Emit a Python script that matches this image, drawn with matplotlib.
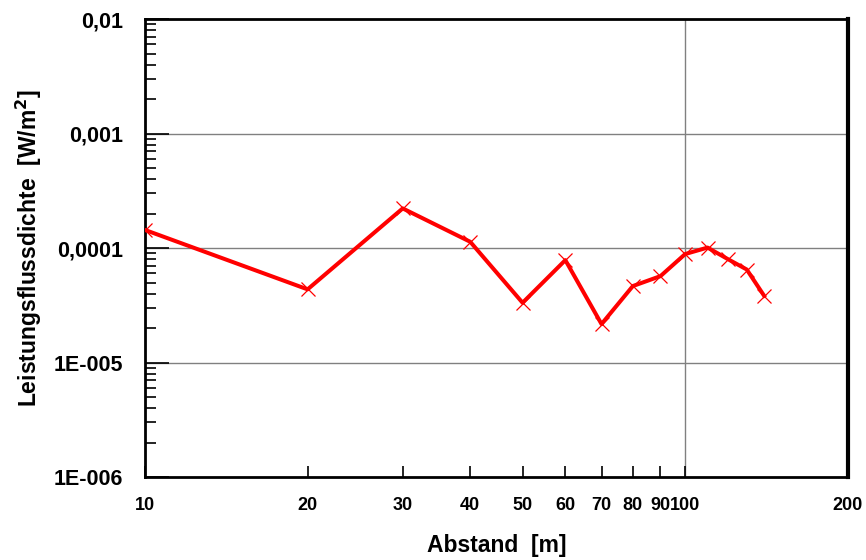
import matplotlib.pyplot as plt
from matplotlib.ticker import FixedLocator, NullFormatter
import numpy as np

plt.rcParams['font.family'] = ['Liberation Sans', 'DejaVu Sans']
plt.rcParams['font.weight'] = 'bold'

# Abstand [m] and Leistungsflussdichte [W/m^2]
abstand = [10, 20, 30, 40, 50, 60, 70, 80, 90, 100, 110, 120, 130, 140]
dichte = [1.44e-4, 4.36e-5, 2.22e-4, 1.135e-4, 3.33e-5, 7.85e-5, 2.17e-5,
          4.66e-5, 5.69e-5, 8.87e-5, 1.01e-4, 8.0e-5, 6.5e-5, 3.83e-5]

x_ticks = [10, 20, 30, 40, 50, 60, 70, 80, 90, 100, 200]
x_labels = ['10', '20', '30', '40', '50', '60', '70', '80', '90', '100', '200']
y_ticks = [1e-6, 1e-5, 1e-4, 1e-3, 1e-2]
y_labels = ['1E-006', '1E-005', '0,0001', '0,001', '0,01']

fig = plt.figure(figsize=(8.66, 5.6), dpi=100)
ax = fig.add_axes([0.1674, 0.148, 0.8116, 0.818])

ax.set_xscale('log')
ax.set_yscale('log')
ax.set_xlim(10, 200)
ax.set_ylim(1e-6, 1e-2)

# grid: horizontal at each decade, vertical only at 100
for yv in y_ticks[1:-1]:
    ax.axhline(yv, color='#808080', linewidth=1, zorder=1)
ax.axvline(100, color='#808080', linewidth=1, zorder=1)

ax.plot(abstand, dichte, color='#ff0000', linewidth=2.9, marker='x',
        markersize=10, markeredgewidth=0.9, zorder=3)

ax.xaxis.set_major_locator(FixedLocator(x_ticks))
ax.set_xticklabels(x_labels)
ax.xaxis.set_minor_locator(FixedLocator([]))
ax.yaxis.set_major_locator(FixedLocator(y_ticks))
ax.set_yticklabels(y_labels)
minor_y = [m * 10.0 ** e for e in range(-6, -2) for m in range(2, 10)]
ax.yaxis.set_minor_locator(FixedLocator(minor_y))
ax.yaxis.set_minor_formatter(NullFormatter())

ax.tick_params(axis='x', which='major', direction='in', length=8, width=1.2,
               labelsize=13, pad=14.5)
ax.tick_params(axis='y', which='major', direction='in', length=17, width=1.2,
               labelsize=15.5, pad=16)
ax.tick_params(axis='y', which='minor', direction='in', length=8, width=1.2)
ax.tick_params(top=False, right=False)

for side in ['left', 'bottom', 'top']:
    ax.spines[side].set_linewidth(2)
ax.spines['right'].set_linewidth(3)

ax.set_xlabel('Abstand  [m]', fontsize=16.5, fontweight='bold', labelpad=14)
ax.set_ylabel('Leistungsflussdichte  [W/m$^\\mathbf{2}$]', fontsize=16.5,
              fontweight='bold', labelpad=7)

plt.savefig('out.png', dpi=100)
